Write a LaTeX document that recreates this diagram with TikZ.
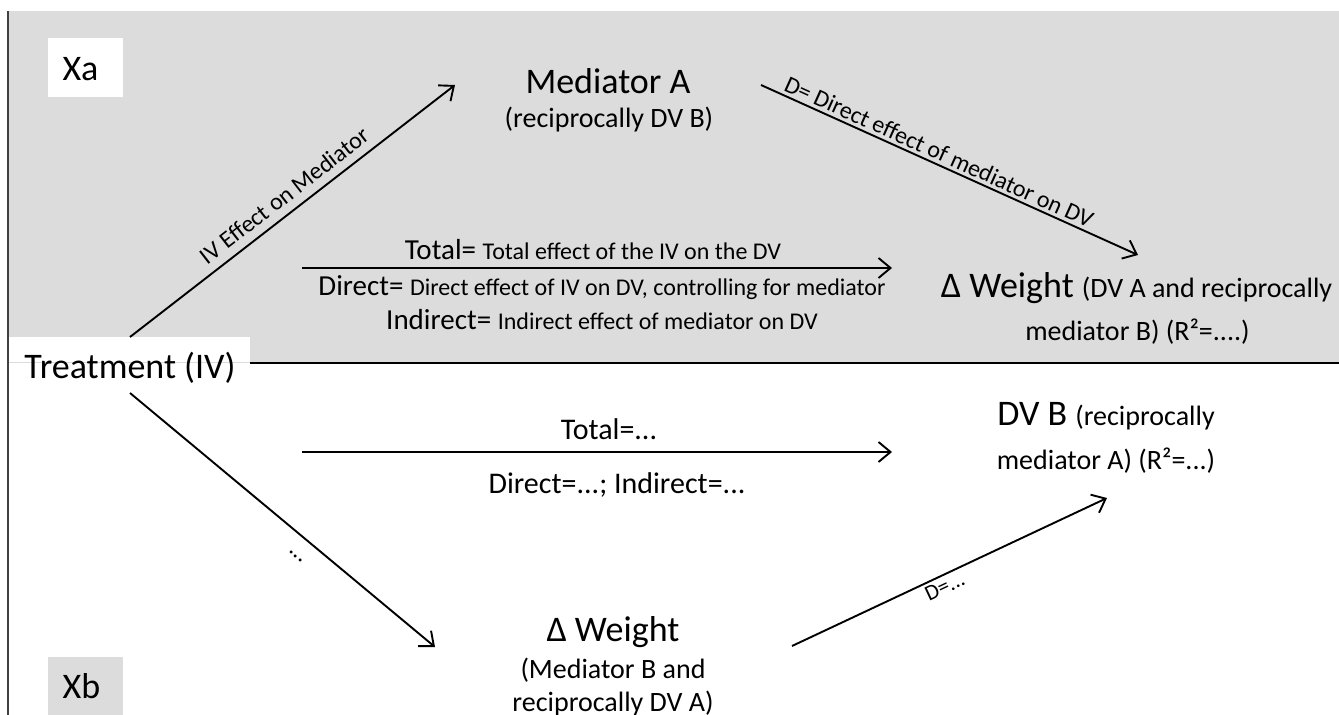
\documentclass[tikz,border=0pt]{standalone}
\usepackage{fontspec}
\setmainfont{Carlito}
\usetikzlibrary{arrows.meta}
\definecolor{panelgray}{RGB}{220,220,220}
\newcommand{\fsBig}{\fontsize{36pt}{43pt}\selectfont}
\newcommand{\fsMid}{\fontsize{28pt}{34pt}\selectfont}
\newcommand{\fsTot}{\fontsize{29pt}{34pt}\selectfont}
\newcommand{\fsSm}{\fontsize{24pt}{29pt}\selectfont}
\newcommand{\fsBot}{\fontsize{30pt}{36pt}\selectfont}
\newcommand{\fsTiny}{\fontsize{22pt}{26pt}\selectfont}
\begin{document}
\begin{tikzpicture}[x=1pt,y=-1pt,
  txt/.style={inner sep=0pt, anchor=base},
  conn/.style={line width=1.9pt, -{Straight Barb[length=12pt,width=20pt,line width=1.9pt]}},
  lbl/.style={inner sep=0pt, sloped, font=\fsSm}]
\useasboundingbox (0,0) rectangle (1339,715);
% panels
\fill[panelgray] (8,11) rectangle (1339,363);
\draw[line width=1.2pt, black!75] (8,11) -- (8,715);
\fill[white] (9,337) rectangle (250,362);
\draw[line width=2pt] (250,363) -- (1339,363);
\fill[white] (48,38) rectangle (123,97);
\fill[panelgray] (48,657) rectangle (123,715);
% texts
\node[txt, font=\fsBig] (xa) at (80.5,80) {Xa};
\node[txt, font=\fsBig] (xb) at (81.5,698) {Xb};
\node[txt, font=\fsBig] (medA) at (608,93) {Mediator A};
\node[txt, font=\fsMid] (medA2) at (609,127) {(reciprocally DV B)};
\node[txt, font=\fsBig] (treat) at (130,378) {Treatment (IV)};
\node[txt] (dwA) at (1136.5,297) {{\fsBig Δ Weight }{\fsMid(DV A and reciprocally}};
\node[txt, font=\fsMid] (dwA2) at (1137.5,340) {mediator B) (R²=....)};
\node[txt] (totA) at (593,259) {{\fsTot Total= }{\fsSm Total effect of the IV on the DV}};
\node[txt] (dirA) at (602,295) {{\fsTot Direct= }{\fsSm Direct effect of IV on DV, controlling for mediator}};
\node[txt] (indA) at (602,329) {{\fsTot Indirect= }{\fsSm Indirect effect of mediator on DV}};
\node[txt, font=\fsBot] (totB) at (609,439) {Total=...};
\node[txt, font=\fsBot] (dirB) at (617,493) {Direct=...; Indirect=...};
\node[txt, font=\fsBig] (dwB) at (613,641) {Δ Weight};
\node[txt, font=\fsMid] (dwB2) at (613,678) {(Mediator B and};
\node[txt, font=\fsMid] (dwB3) at (613,711) {reciprocally DV A)};
\node[txt] (dvB) at (1106,425) {{\fsBig DV B }{\fsMid(reciprocally}};
\node[txt, font=\fsMid] (dvB2) at (1106,469) {mediator A) (R²=...)};
% connector end points
\coordinate (ivAs) at (130,337); \coordinate (ivAe) at (455,85);
\coordinate (dAs) at (761,85);   \coordinate (dAe) at (1138,255);
\coordinate (tAs) at (302,268);  \coordinate (tAe) at (892,268);
\coordinate (ivBs) at (130,393); \coordinate (ivBe) at (435,647);
\coordinate (tBs) at (302,452);  \coordinate (tBe) at (892,452);
\coordinate (dBs) at (792,646);  \coordinate (dBe) at (1107,498);
% connectors
\draw[conn] (ivAs) -- node[lbl, above=8pt, pos=0.508] (ivLbl) {IV Effect on Mediator} (ivAe);
\draw[conn] (dAs) -- node[lbl, above=3pt, pos=0.459] (dLbl) {D= Direct effect of mediator on DV} (dAe);
\draw[conn] (tAs) -- (tAe);
\draw[conn] (ivBs) -- node[lbl, below=17pt, pos=0.585] (dots) {...} (ivBe);
\draw[conn] (tBs) -- (tBe);
\draw[conn] (dBs) -- node[lbl, below=3pt, pos=0.47, font=\fsTiny] (dBLbl) {D=...} (dBe);
\end{tikzpicture}
\end{document}
